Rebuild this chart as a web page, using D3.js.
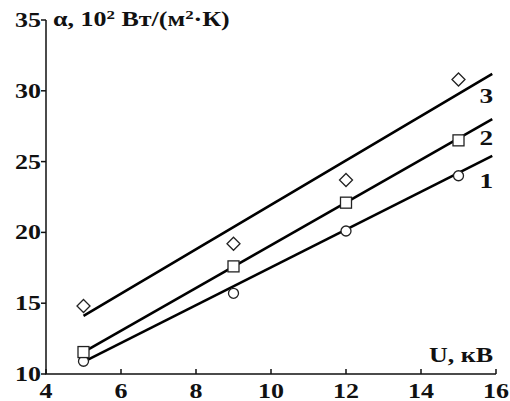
<!DOCTYPE html>
<html>
<head>
<meta charset="utf-8">
<script src="https://cdn.jsdelivr.net/npm/d3@7"></script>
<style>
  body { margin: 0; background: #fff; }
  text { font-family: "Liberation Serif", "Times New Roman", serif; font-weight: bold; fill: #111; }
</style>
</head>
<body>
<div id="chart"></div>
<script>
// Данные
const voltage = [5, 9, 12, 15];
const series1 = [10.9, 15.7, 20.1, 24.0];   // кружки
const series2 = [11.55, 17.6, 22.1, 26.5];  // квадраты
const series3 = [14.8, 19.2, 23.7, 30.8];   // ромбы

// Прямые (концы)
const fitX = [5, 15.9];
const fit1 = [10.85, 25.4];
const fit2 = [11.55, 28.0];
const fit3 = [14.1, 31.2];

const xTicks = [4, 6, 8, 10, 12, 14, 16];
const yTicks = [10, 15, 20, 25, 30, 35];
const curveNames = ["1", "2", "3"];

const W = 510, H = 401;
const sx = 1.3; // горизонтальное растяжение шрифта

const x = d3.scaleLinear().domain([4, 16]).range([46, 496]);
const y = d3.scaleLinear().domain([10, 35]).range([374, 20]);

const svg = d3.select("#chart").append("svg")
  .attr("width", W)
  .attr("height", H);

function label(txt, px, py, anchor, size) {
  return svg.append("text")
    .attr("transform", `translate(${px},${py}) scale(${sx},1)`)
    .attr("text-anchor", anchor || "start")
    .style("font-size", (size || 20) + "px")
    .text(txt);
}

// Оси
svg.append("path")
  .attr("d", `M${x(4)},${y(35)}V${y(10)}H${x(16)}`)
  .attr("fill", "none")
  .attr("stroke", "#111")
  .attr("stroke-width", 1.5);

yTicks.forEach(v => {
  svg.append("line")
    .attr("x1", x(4) - 5).attr("x2", x(4))
    .attr("y1", y(v)).attr("y2", y(v))
    .attr("stroke", "#111").attr("stroke-width", 1.5);
  label(String(v), x(4) - 5, y(v) + 7, "end");
});

xTicks.forEach(v => {
  svg.append("line")
    .attr("x1", x(v)).attr("x2", x(v))
    .attr("y1", y(10)).attr("y2", y(10) - 5)
    .attr("stroke", "#111").attr("stroke-width", 1.5);
  label(String(v), x(v), 398, "middle");
});

// Подписи осей
const t = svg.append("text")
  .attr("transform", `translate(53,26) scale(${sx},1)`)
  .style("font-size", "20px");
t.append("tspan").text("α, 10");
t.append("tspan").attr("dy", -7).style("font-size", "13px").text("2");
t.append("tspan").attr("dy", 7).text(" Вт/(м");
t.append("tspan").attr("dy", -7).style("font-size", "13px").text("2");
t.append("tspan").attr("dy", 7).text("·К)");

label("U, кВ", 493, 362, "end");

// Прямые
const line = d3.line().x(d => x(d[0])).y(d => y(d[1]));
[fit1, fit2, fit3].forEach(f => {
  svg.append("path")
    .datum(fitX.map((v, i) => [v, f[i]]))
    .attr("d", line)
    .attr("fill", "none")
    .attr("stroke", "#000")
    .attr("stroke-width", 2.6);
});

// Маркеры
const mk = svg.append("g")
  .attr("fill", "#fff")
  .attr("stroke", "#222")
  .attr("stroke-width", 1.3);

mk.selectAll(".c").data(voltage).join("circle")
  .attr("cx", d => x(d))
  .attr("cy", (d, i) => y(series1[i]))
  .attr("r", 5);

mk.selectAll(".s").data(voltage).join("rect")
  .attr("x", d => x(d) - 5.5)
  .attr("y", (d, i) => y(series2[i]) - 5.5)
  .attr("width", 11)
  .attr("height", 11);

mk.selectAll(".d").data(voltage).join("path")
  .attr("d", (d, i) => {
    const cx = x(d), cy = y(series3[i]);
    return `M${cx},${cy - 6.5}L${cx + 6.5},${cy}L${cx},${cy + 6.5}L${cx - 6.5},${cy}Z`;
  });

// Номера кривых — под правым концом каждой прямой
const nameDy = [32, 26, 29];
[fit1, fit2, fit3].forEach((f, i) => {
  label(curveNames[i], x(fitX[1]) + 1, y(f[1]) + nameDy[i], "end", 21);
});
</script>
</body>
</html>
